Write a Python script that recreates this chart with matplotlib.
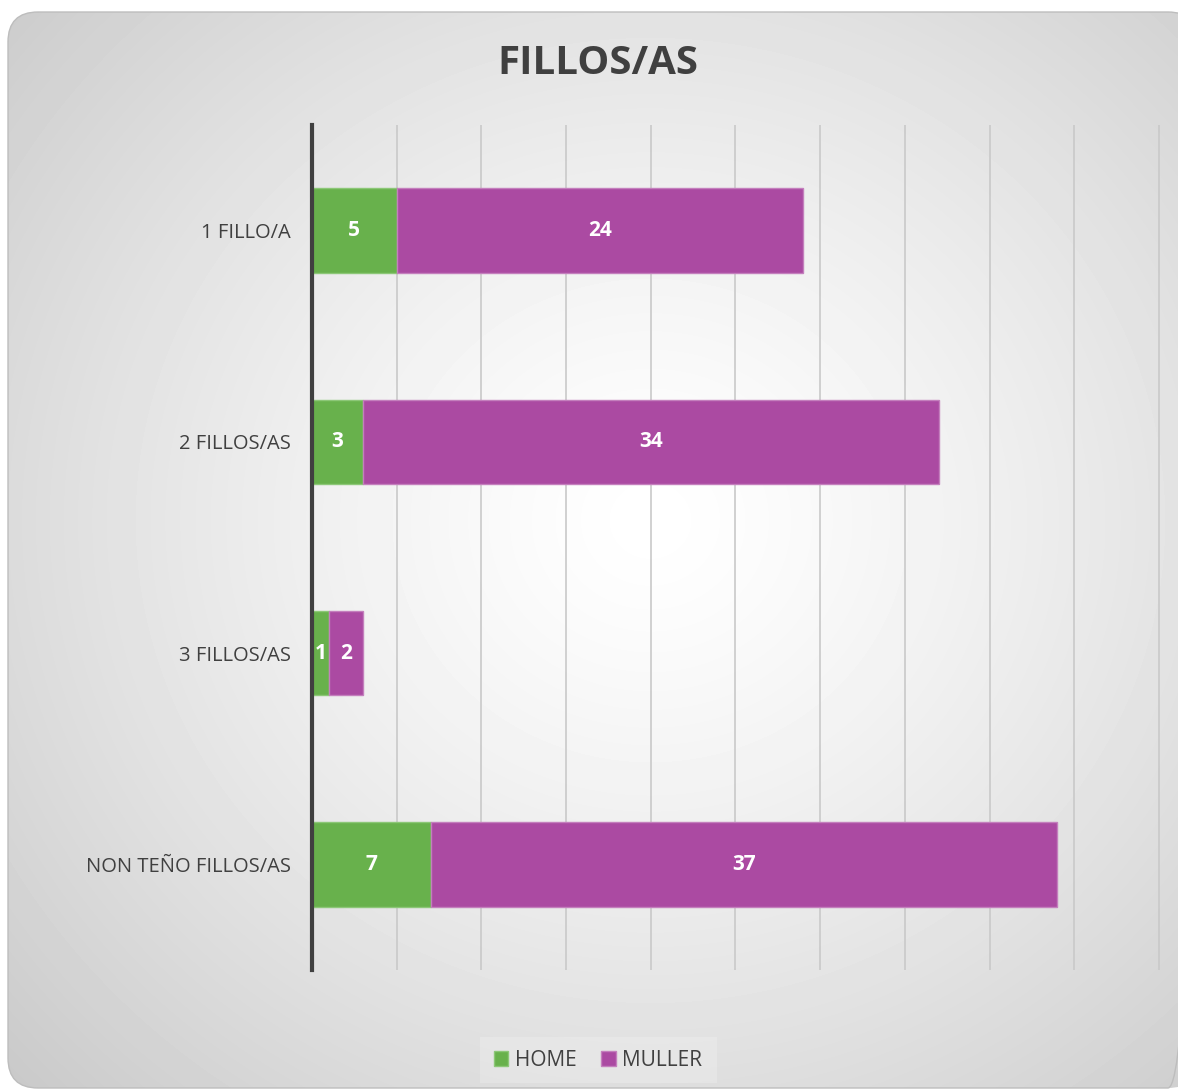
import numpy as np
import matplotlib.pyplot as plt
from matplotlib.patches import FancyBboxPatch, Rectangle

plt.rcParams['font.family'] = ['Open Sans', 'DejaVu Sans']

categorias = ['1 FILLO/A', '2 FILLOS/AS', '3 FILLOS/AS', 'NON TEÑO FILLOS/AS']
home = [5, 3, 1, 7]
muller = [24, 34, 2, 37]
series = ['HOME', 'MULLER']

verde = '#68b14c'
morado = '#ab4aa2'

W, H = 1178, 1090
fig = plt.figure(figsize=(W / 100, H / 100), dpi=100)
fig.patch.set_facecolor('white')

# fondo: tarxeta redondeada con degradado radial
bg = fig.add_axes([0, 0, 1, 1])
bg.set_xlim(0, W)
bg.set_ylim(H, 0)
bg.axis('off')
yy, xx = np.mgrid[0:H, 0:W]
d = np.sqrt(((xx - 650) / 640.0) ** 2 + ((yy - 520) / 600.0) ** 2)
grad = np.clip(1.0 - 0.14 * d ** 1.3, 0.78, 1.0)
card = FancyBboxPatch((8, 12), 1190, 1076, boxstyle='round,pad=0,rounding_size=30',
                      facecolor='none', edgecolor='#bdbdbd', linewidth=1)
bg.add_patch(card)
im = bg.imshow(grad, cmap='gray', vmin=0, vmax=1, extent=(0, W, H, 0), zorder=0)
im.set_clip_path(card)

bg.text(598, 64, 'FILLOS/AS', ha='center', va='center', fontsize=29,
        fontweight='bold', color='#404040')

# leyenda
bg.add_patch(Rectangle((480, 1037), 237, 46, facecolor='white', alpha=0.2,
                       edgecolor='none'))

ax = fig.add_axes([312 / W, 1 - 970 / H, (1161 - 312) / W, (970 - 125) / H])
ax.patch.set_alpha(0)
y = np.arange(len(categorias))
b1 = ax.barh(y, home, height=0.4, color=verde, edgecolor='#8cc777', linewidth=1,
             label=series[0], zorder=3)
b2 = ax.barh(y, muller, left=home, height=0.4, color=morado, edgecolor='#c47fbd',
             linewidth=1, label=series[1], zorder=3)
for bars in (b1, b2):
    ax.bar_label(bars, label_type='center', color='white', fontsize=15,
                 fontweight='bold')

ax.set_xlim(0, 50.12)
ax.set_ylim(len(categorias) - 0.5, -0.5)
ax.set_xticks(np.arange(0, 51, 5))
ax.set_xticklabels([])
ax.tick_params(axis='x', length=0)
ax.grid(axis='x', color='#c9c9c9', linewidth=1.2, zorder=0)
ax.set_yticks(y)
ax.set_yticklabels(categorias, fontsize=14.5, color='#404040')
ax.tick_params(axis='y', length=0, pad=15)
for s in ['top', 'right', 'bottom']:
    ax.spines[s].set_visible(False)
ax.spines['left'].set_color('#404040')
ax.spines['left'].set_linewidth(3)
ax.spines['left'].set_zorder(5)

fig.legend(handles=[b1, b2], loc='center', bbox_to_anchor=(598 / W, 1 - 1060 / H),
           ncol=2, frameon=False, fontsize=15, handlelength=0.7, handleheight=0.7,
           handletextpad=0.3, columnspacing=1.2, labelcolor='#404040')

fig.savefig('out.png', dpi=100)
